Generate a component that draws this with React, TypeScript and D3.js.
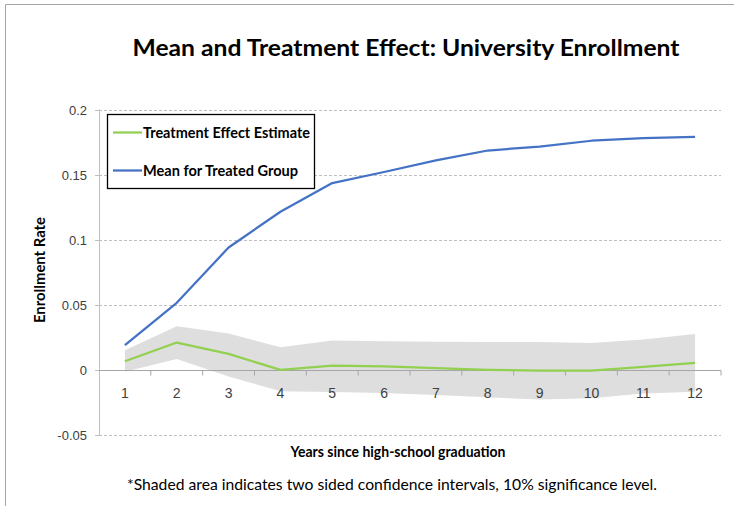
import { useEffect, useRef } from 'react';
import * as d3 from 'd3';

const years = ['1', '2', '3', '4', '5', '6', '7', '8', '9', '10', '11', '12'];
const meanTreated = [0.019, 0.0515, 0.094, 0.1215, 0.1435, 0.152, 0.161, 0.1685, 0.1715, 0.176, 0.178, 0.179];
const effect = [0.0066, 0.021, 0.0123, 0.0, 0.0033, 0.0028, 0.0013, 0.0, -0.0005, -0.0005, 0.0023, 0.0054];
const ciUpper = [0.015, 0.0335, 0.0279, 0.0174, 0.0225, 0.022, 0.0217, 0.0215, 0.0215, 0.0207, 0.0233, 0.0276];
const ciLower = [-0.0015, 0.0084, -0.005, -0.0164, -0.0169, -0.0177, -0.0192, -0.021, -0.0228, -0.0218, -0.0182, -0.0167];
const yTicks = [-0.05, 0, 0.05, 0.1, 0.15, 0.2];

const BLUE = '#4472c4';
const GREEN = '#92d050';
const FONT = 'Lato, "Open Sans", sans-serif';
const TICK_FONT = '"Liberation Sans", Arial, sans-serif';

export default function App() {
  const svgRef = useRef<SVGSVGElement>(null);

  useEffect(() => {
    if (!svgRef.current) return;
    const el = svgRef.current;
    d3.select(el).selectAll('*').remove();

    const W = 734;
    const H = 506;
    const svg = d3.select(el).attr('width', W).attr('height', H);

    svg.append('rect').attr('width', W).attr('height', H).attr('fill', '#fff');

    // outer chart frame (cropped at right/bottom)
    svg.append('path')
      .attr('d', `M5.5,${H + 2} L5.5,4.5 L${W + 2},4.5`)
      .attr('fill', 'none')
      .attr('stroke', '#a6a6a6')
      .attr('stroke-width', 1);

    const x = d3.scaleBand<string>().domain(years).range([99, 721]).paddingInner(0).paddingOuter(0);
    const cx = (d: string) => (x(d) ?? 0) + x.bandwidth() / 2;
    const y = d3.scaleLinear().domain([-0.05, 0.2]).range([435, 109.5]);

    // gridlines
    yTicks.filter((t) => t !== 0).forEach((t) => {
      svg.append('line')
        .attr('x1', 99).attr('x2', 721)
        .attr('y1', Math.round(y(t)) + 0.5).attr('y2', Math.round(y(t)) + 0.5)
        .attr('stroke', '#bfbfbf')
        .attr('stroke-width', 1)
        .attr('stroke-dasharray', '3,2');
    });

    // y axis
    svg.append('line')
      .attr('x1', 99.5).attr('x2', 99.5)
      .attr('y1', y(0.2)).attr('y2', y(-0.05))
      .attr('stroke', '#bfbfbf');
    yTicks.forEach((t) => {
      const yy = Math.round(y(t)) + 0.5;
      svg.append('line').attr('x1', 95).attr('x2', 99.5).attr('y1', yy).attr('y2', yy).attr('stroke', '#bfbfbf');
      svg.append('text')
        .attr('x', 87)
        .attr('y', yy)
        .attr('dy', '0.35em')
        .attr('text-anchor', 'end')
        .attr('font-family', TICK_FONT)
        .attr('font-size', 13)
        .attr('fill', '#404040')
        .text(String(t));
    });

    // confidence band
    const idx = d3.range(years.length);
    const area = d3.area<number>()
      .x((i) => cx(years[i]))
      .y0((i) => y(ciLower[i]))
      .y1((i) => y(ciUpper[i]));
    svg.append('path').datum(idx).attr('d', area).attr('fill', '#dedede');

    // x axis at zero
    const y0 = Math.round(y(0)) + 0.5;
    svg.append('line').attr('x1', 99).attr('x2', 721).attr('y1', y0).attr('y2', y0).attr('stroke', '#a6a6a6').attr('stroke-width', 1.2);
    years.forEach((d) => {
      const bx = (x(d) ?? 0) + x.bandwidth();
      svg.append('line').attr('x1', bx).attr('x2', bx).attr('y1', y0).attr('y2', y0 + 5).attr('stroke', '#a6a6a6');
      svg.append('text')
        .attr('x', cx(d))
        .attr('y', y0 + 27)
        .attr('text-anchor', 'middle')
        .attr('font-family', TICK_FONT)
        .attr('font-size', 14)
        .attr('fill', '#404040')
        .text(d);
    });

    const line = (vals: number[]) => d3.line<number>()
      .x((i) => cx(years[i]))
      .y((i) => y(vals[i]))(idx);

    svg.append('path').attr('d', line(effect)).attr('fill', 'none').attr('stroke', GREEN).attr('stroke-width', 2.25).attr('stroke-linejoin', 'round');
    svg.append('path').attr('d', line(meanTreated)).attr('fill', 'none').attr('stroke', BLUE).attr('stroke-width', 2.25).attr('stroke-linejoin', 'round');

    // legend
    svg.append('rect')
      .attr('x', 107.5).attr('y', 114.5)
      .attr('width', 207).attr('height', 74)
      .attr('fill', '#fff')
      .attr('stroke', '#000')
      .attr('stroke-width', 1.3);
    const legend = [
      { label: 'Treatment Effect Estimate', color: GREEN, yy: 132.5, len: 167 },
      { label: 'Mean for Treated Group', color: BLUE, yy: 170.5, len: 155 },
    ];
    legend.forEach((item) => {
      svg.append('line').attr('x1', 113).attr('x2', 142).attr('y1', item.yy).attr('y2', item.yy).attr('stroke', item.color).attr('stroke-width', 2.25);
      svg.append('text')
        .attr('x', 143)
        .attr('y', item.yy)
        .attr('dy', '0.35em')
        .attr('font-family', FONT)
        .attr('font-weight', 'bold')
        .attr('font-size', 14.5)
        .attr('textLength', item.len)
        .attr('lengthAdjust', 'spacingAndGlyphs')
        .attr('fill', '#000')
        .text(item.label);
    });

    // title
    svg.append('text')
      .attr('x', 406)
      .attr('y', 56)
      .attr('text-anchor', 'middle')
      .attr('font-family', FONT)
      .attr('font-weight', 'bold')
      .attr('font-size', 23)
      .attr('textLength', 547)
      .attr('lengthAdjust', 'spacingAndGlyphs')
      .attr('fill', '#000')
      .text('Mean and Treatment Effect: University Enrollment');

    // axis titles
    svg.append('text')
      .attr('transform', 'rotate(-90)')
      .attr('x', -270)
      .attr('y', 45)
      .attr('text-anchor', 'middle')
      .attr('font-family', FONT)
      .attr('font-weight', 'bold')
      .attr('font-size', 14.5)
      .attr('textLength', 106)
      .attr('lengthAdjust', 'spacingAndGlyphs')
      .attr('fill', '#000')
      .text('Enrollment Rate');

    svg.append('text')
      .attr('x', 398)
      .attr('y', 457)
      .attr('text-anchor', 'middle')
      .attr('font-family', FONT)
      .attr('font-weight', 'bold')
      .attr('font-size', 14.5)
      .attr('textLength', 215)
      .attr('lengthAdjust', 'spacingAndGlyphs')
      .attr('fill', '#000')
      .text('Years since high-school graduation');

    svg.append('text')
      .attr('x', 392)
      .attr('y', 490)
      .attr('text-anchor', 'middle')
      .attr('font-family', FONT)
      .attr('font-size', 15)
      .attr('textLength', 530)
      .attr('lengthAdjust', 'spacingAndGlyphs')
      .attr('fill', '#000')
      .text('*Shaded area indicates two sided confidence intervals, 10% significance level.');
  }, []);

  return (
    <svg ref={svgRef} width={734} height={506} style={{ position: 'absolute', left: 0, top: 0 }} />
  );
}
